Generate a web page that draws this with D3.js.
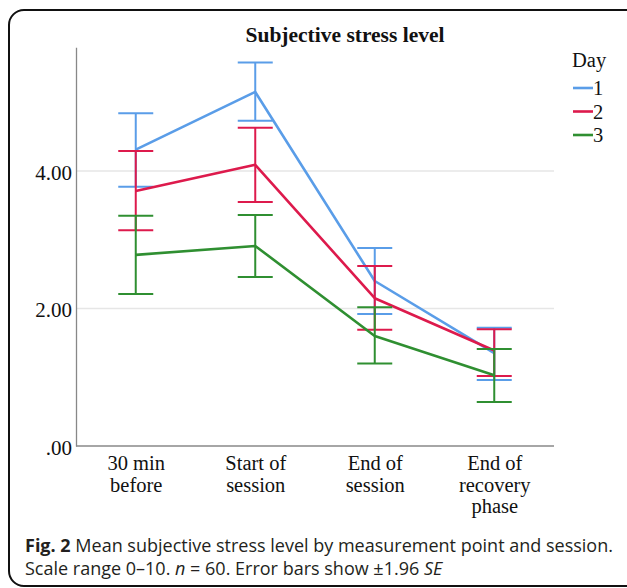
<!DOCTYPE html>
<html>
<head>
<meta charset="utf-8">
<script src="https://cdn.jsdelivr.net/npm/d3@7"></script>
<style>
  body { margin: 0; background: #fff; }
  svg { display: block; }
  .tick text { font-family: "Liberation Serif", serif; }
</style>
</head>
<body>
<div id="chart"></div>
<script>
// measurement points (x categories)
var categories = ["30 min|before", "Start of|session", "End of|session", "End of|recovery|phase"];
var days = ["1", "2", "3"];
var colors = ["#5a9de8", "#dd1a4c", "#2f8f31"];

// means per day
var day1Mean = [4.31, 5.15, 2.40, 1.35];
var day2Mean = [3.71, 4.09, 2.15, 1.39];
var day3Mean = [2.78, 2.91, 1.60, 1.03];
// error bar upper / lower (±1.96 SE)
var day1Hi = [4.84, 5.58, 2.88, 1.72];
var day1Lo = [3.77, 4.73, 1.92, 0.96];
var day2Hi = [4.29, 4.63, 2.62, 1.70];
var day2Lo = [3.14, 3.55, 1.69, 1.02];
var day3Hi = [3.35, 3.36, 2.02, 1.41];
var day3Lo = [2.21, 2.46, 1.20, 0.64];

var yTicks = [0, 2, 4];

var W = 627, H = 588;
var svg = d3.select("#chart").append("svg")
  .attr("width", W).attr("height", H);

// outer frame (cut off at right like the figure)
svg.append("rect")
  .attr("x", 9).attr("y", 10)
  .attr("width", 660).attr("height", 576)
  .attr("rx", 15)
  .attr("fill", "none")
  .attr("stroke", "#111")
  .attr("stroke-width", 2);

var x = d3.scalePoint().domain(categories).range([76, 554]).padding(0.5);
var y = d3.scaleLinear().domain([0, 5.8]).range([446, 47.25]);

// gridlines
svg.append("g").selectAll("line")
  .data(yTicks.filter(function(d){ return d > 0; }))
  .enter().append("line")
    .attr("x1", 76).attr("x2", 554)
    .attr("y1", function(d){ return y(d); })
    .attr("y2", function(d){ return y(d); })
    .attr("stroke", "#e6e6e6")
    .attr("stroke-width", 1.5);

// y axis
var yAxis = d3.axisLeft(y).tickValues(yTicks).tickSize(0).tickPadding(4)
  .tickFormat(function(d){ return d === 0 ? ".00" : d3.format(".2f")(d); });
var gy = svg.append("g").attr("transform", "translate(76,0)").call(yAxis);
gy.select(".domain").attr("stroke", "#888").attr("stroke-width", 1.3);
gy.selectAll(".tick text").attr("font-size", 21).attr("fill", "#111").attr("dy", "0.4em");

// x axis
var xAxis = d3.axisBottom(x).tickSize(0).tickPadding(0).tickFormat("");
var gx = svg.append("g").attr("transform", "translate(0,446)").call(xAxis);
gx.select(".domain").attr("stroke", "#888").attr("stroke-width", 1.3)
  .attr("d", "M76,0H554");
gx.selectAll(".tick").each(function(d){
  var lines = d.split("|");
  var t = d3.select(this).append("text")
    .attr("fill", "#111")
    .attr("font-family", "Liberation Serif, serif")
    .attr("font-size", 20.5)
    .attr("text-anchor", "middle");
  lines.forEach(function(s, i){
    t.append("tspan").attr("x", 0).attr("y", 24 + i * 21.5).text(s);
  });
});

// series
var series = [
  { name: days[0], mean: day1Mean, hi: day1Hi, lo: day1Lo, color: colors[0] },
  { name: days[1], mean: day2Mean, hi: day2Hi, lo: day2Lo, color: colors[1] },
  { name: days[2], mean: day3Mean, hi: day3Hi, lo: day3Lo, color: colors[2] }
];

var line = d3.line()
  .x(function(d){ return x(d.cat); })
  .y(function(d){ return y(d.v); });

var capW = 17.5;
series.forEach(function(s){
  var g = svg.append("g");
  var pts = categories.map(function(c, i){
    return { cat: c, v: s.mean[i], hi: s.hi[i], lo: s.lo[i] };
  });
  // error bars
  var eb = g.selectAll(".eb").data(pts).enter().append("g");
  eb.append("line")
    .attr("x1", function(d){ return x(d.cat); })
    .attr("x2", function(d){ return x(d.cat); })
    .attr("y1", function(d){ return y(d.hi); })
    .attr("y2", function(d){ return y(d.lo); })
    .attr("stroke", s.color).attr("stroke-width", 2);
  ["hi", "lo"].forEach(function(k){
    eb.append("line")
      .attr("x1", function(d){ return x(d.cat) - capW; })
      .attr("x2", function(d){ return x(d.cat) + capW; })
      .attr("y1", function(d){ return y(d[k]); })
      .attr("y2", function(d){ return y(d[k]); })
      .attr("stroke", s.color).attr("stroke-width", 2);
  });
  g.append("path")
    .datum(pts)
    .attr("d", line)
    .attr("fill", "none")
    .attr("stroke", s.color)
    .attr("stroke-width", 2.6)
    .attr("stroke-linejoin", "round");
});

// title
svg.append("text")
  .attr("x", 345).attr("y", 42)
  .attr("text-anchor", "middle")
  .attr("font-family", "Liberation Serif, serif")
  .attr("font-weight", "bold")
  .attr("font-size", 21.5)
  .attr("fill", "#111")
  .text("Subjective stress level");

// legend
var lg = svg.append("g").attr("transform", "translate(573,0)");
lg.append("text")
  .attr("x", -1).attr("y", 67)
  .attr("font-family", "Liberation Serif, serif")
  .attr("font-size", 20.5)
  .attr("fill", "#111")
  .text("Day");
series.forEach(function(s, i){
  var yy = 88 + i * 23.5;
  lg.append("line")
    .attr("x1", 0).attr("x2", 20)
    .attr("y1", yy).attr("y2", yy)
    .attr("stroke", s.color).attr("stroke-width", 2.6);
  lg.append("text")
    .attr("x", 20).attr("y", yy + 7)
    .attr("font-family", "Liberation Serif, serif")
    .attr("font-size", 20.5)
    .attr("fill", "#111")
    .text(s.name);
});

// caption: pieces laid out one after another so they never overlap
var capFont = "Open Sans, Noto Sans, sans-serif";
function captionLine(parts, yy){
  var xx = 25;
  parts.forEach(function(p){
    var t = svg.append("text")
      .attr("x", xx).attr("y", yy)
      .attr("font-family", capFont)
      .attr("font-size", 18)
      .attr("fill", "#231f20")
      .attr("xml:space", "preserve")
      .style("white-space", "pre")
      .attr("font-weight", p.b ? "bold" : "normal")
      .attr("font-style", p.i ? "italic" : "normal")
      .text(p.s);
    xx += t.node().getComputedTextLength();
  });
}
captionLine([
  { s: "Fig. 2", b: true },
  { s: " Mean subjective stress level by measurement point and session." }
], 552);
captionLine([
  { s: "Scale range 0\u201310. " },
  { s: "n", i: true },
  { s: " = 60. Error bars show \u00b11.96 " },
  { s: "SE", i: true }
], 575);
</script>
</body>
</html>
